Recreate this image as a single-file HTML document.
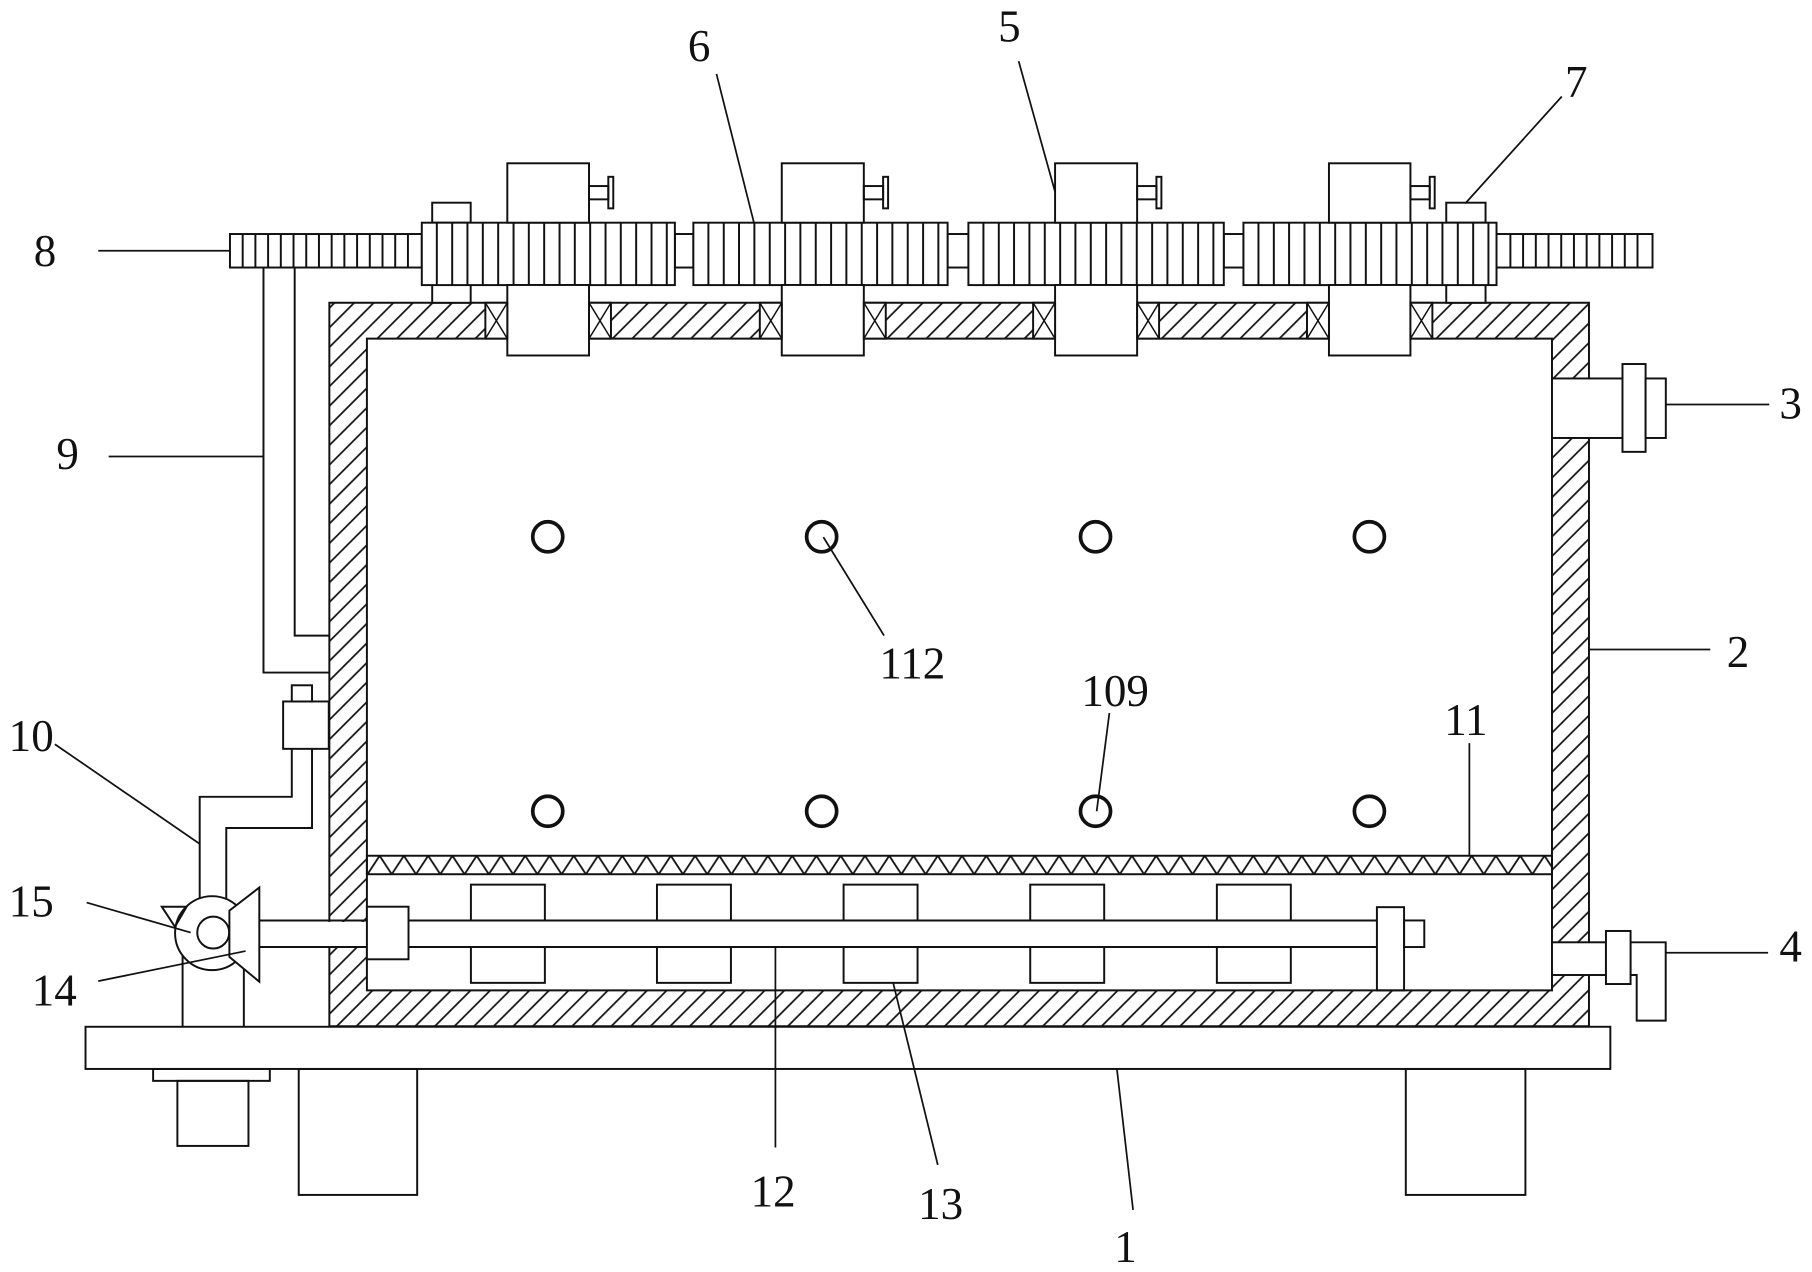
<!DOCTYPE html>
<html><head><meta charset="utf-8"><style>html,body{margin:0;padding:0;background:#fff;}svg{display:block}</style></head>
<body>
<svg xmlns="http://www.w3.org/2000/svg" width="1812" height="1272" viewBox="0 0 1568 1100.7" preserveAspectRatio="none">
<defs>
<pattern id="h" patternUnits="userSpaceOnUse" width="12" height="12" patternTransform="rotate(45)">
<line x1="6" y1="-1" x2="6" y2="13" stroke="#111" stroke-width="1.5"/>
</pattern>
<pattern id="z" patternUnits="userSpaceOnUse" x="318" y="740.5" width="21" height="16">
<polyline points="0,16 10.5,0 21,16" fill="none" stroke="#111" stroke-width="1.6"/>
</pattern>
</defs>
<rect width="1568" height="1101" fill="#fff"/>
<g fill="none" stroke="#111" stroke-width="1.7">
<!-- walls -->
<path d="M285,262H1375V888H285Z M317.5,293V857H1343V293Z" fill="url(#h)" fill-rule="evenodd"/>
<!-- left wall shaft opening -->
<rect x="283.5" y="797.8" width="35" height="21.4" fill="#fff" stroke="none"/>
<!-- fitting 3 -->
<rect x="1343" y="327.5" width="61" height="51.5" fill="#fff"/>
<rect x="1404" y="315" width="20" height="76" fill="#fff"/>
<rect x="1424" y="327.5" width="17.5" height="51.5" fill="#fff"/>
<!-- fitting 4 -->
<rect x="1343" y="815.4" width="46.7" height="28.3" fill="#fff"/>
<polygon points="1411,815.4 1441.4,815.4 1441.4,883.2 1416.3,883.2 1416.3,843.7 1411,843.7" fill="#fff"/>
<rect x="1389.7" y="805.6" width="21.3" height="45.9" fill="#fff"/>

<!-- top rods -->
<rect x="199" y="202.5" width="166" height="29" fill="#fff"/>
<path d="M210,202.5V231.5M221,202.5V231.5M232,202.5V231.5M243,202.5V231.5M254,202.5V231.5M265,202.5V231.5M276,202.5V231.5M287,202.5V231.5M298,202.5V231.5M309,202.5V231.5M320,202.5V231.5M331,202.5V231.5M342,202.5V231.5M353,202.5V231.5"/>
<rect x="1295" y="202.5" width="135" height="29" fill="#fff"/>
<path d="M1307,202.5V231.5M1318,202.5V231.5M1329,202.5V231.5M1340,202.5V231.5M1351,202.5V231.5M1362,202.5V231.5M1373,202.5V231.5M1384,202.5V231.5M1395,202.5V231.5M1406,202.5V231.5M1417,202.5V231.5"/>
<rect x="584" y="202.5" width="16" height="29" fill="#fff"/>
<rect x="820" y="202.5" width="18" height="29" fill="#fff"/>
<rect x="1059" y="202.5" width="17" height="29" fill="#fff"/>

<!-- small blocks 7 -->
<rect x="374" y="175.4" width="33.3" height="17.3" fill="#fff"/>
<rect x="374" y="246.6" width="33.3" height="15.4" fill="#fff"/>
<rect x="1251.5" y="175.4" width="34" height="17.3" fill="#fff"/>
<rect x="1251.5" y="246.6" width="34" height="15.4" fill="#fff"/>

<!-- sleeves -->
<rect x="365" y="192.7" width="219" height="54" fill="#fff"/>
<rect x="600" y="192.7" width="220" height="54" fill="#fff"/>
<rect x="838" y="192.7" width="221" height="54" fill="#fff"/>
<rect x="1076" y="192.7" width="219" height="54" fill="#fff"/>
<path d="M378,192.7V246.7M391.3,192.7V246.7M404.5,192.7V246.7M417.8,192.7V246.7M431.1,192.7V246.7M444.4,192.7V246.7M457.6,192.7V246.7M470.9,192.7V246.7M484.2,192.7V246.7M497.4,192.7V246.7M510.7,192.7V246.7M524,192.7V246.7M537.2,192.7V246.7M550.5,192.7V246.7M563.8,192.7V246.7M577,192.7V246.7"/>
<path d="M613,192.7V246.7M626.3,192.7V246.7M639.5,192.7V246.7M652.8,192.7V246.7M666.1,192.7V246.7M679.4,192.7V246.7M692.6,192.7V246.7M705.9,192.7V246.7M719.2,192.7V246.7M732.4,192.7V246.7M745.7,192.7V246.7M759,192.7V246.7M772.2,192.7V246.7M785.5,192.7V246.7M798.8,192.7V246.7M812,192.7V246.7"/>
<path d="M851,192.7V246.7M864.3,192.7V246.7M877.5,192.7V246.7M890.8,192.7V246.7M904.1,192.7V246.7M917.4,192.7V246.7M930.6,192.7V246.7M943.9,192.7V246.7M957.2,192.7V246.7M970.4,192.7V246.7M983.7,192.7V246.7M997,192.7V246.7M1010.2,192.7V246.7M1023.5,192.7V246.7M1036.8,192.7V246.7M1050,192.7V246.7"/>
<path d="M1089,192.7V246.7M1102.3,192.7V246.7M1115.5,192.7V246.7M1128.8,192.7V246.7M1142.1,192.7V246.7M1155.4,192.7V246.7M1168.6,192.7V246.7M1181.9,192.7V246.7M1195.2,192.7V246.7M1208.4,192.7V246.7M1221.7,192.7V246.7M1235,192.7V246.7M1248.2,192.7V246.7M1261.5,192.7V246.7M1274.8,192.7V246.7M1288,192.7V246.7"/>

<!-- motor blocks above -->
<rect x="439" y="141.3" width="70.7" height="51.4" fill="#fff"/>
<rect x="676.5" y="141.3" width="71" height="51.4" fill="#fff"/>
<rect x="913" y="141.3" width="71" height="51.4" fill="#fff"/>
<rect x="1150" y="141.3" width="70.5" height="51.4" fill="#fff"/>
<!-- knobs -->
<rect x="509.7" y="161" width="16.7" height="11.5"/><rect x="526.4" y="153" width="4.3" height="27.3"/>
<rect x="747.5" y="161" width="16.7" height="11.5"/><rect x="764.2" y="153" width="4.3" height="27.3"/>
<rect x="984" y="161" width="16.7" height="11.5"/><rect x="1000.7" y="153" width="4.3" height="27.3"/>
<rect x="1220.5" y="161" width="16.7" height="11.5"/><rect x="1237.2" y="153" width="4.3" height="27.3"/>

<!-- blocks below through top wall -->
<rect x="439" y="246.6" width="70.7" height="61" fill="#fff"/>
<rect x="676.5" y="246.6" width="71" height="61" fill="#fff"/>
<rect x="913" y="246.6" width="71" height="61" fill="#fff"/>
<rect x="1150" y="246.6" width="70.5" height="61" fill="#fff"/>
<!-- bearings -->
<g fill="#fff">
<rect x="420" y="262" width="19" height="31"/><rect x="509.7" y="262" width="19" height="31"/>
<rect x="657.5" y="262" width="19" height="31"/><rect x="747.5" y="262" width="19" height="31"/>
<rect x="894" y="262" width="19" height="31"/><rect x="984" y="262" width="19" height="31"/>
<rect x="1131" y="262" width="19" height="31"/><rect x="1220.5" y="262" width="19" height="31"/>
</g>
<path d="M420,262L439,293M439,262L420,293 M509.7,262L528.7,293M528.7,262L509.7,293 M657.5,262L676.5,293M676.5,262L657.5,293 M747.5,262L766.5,293M766.5,262L747.5,293 M894,262L913,293M913,262L894,293 M984,262L1003,293M1003,262L984,293 M1131,262L1150,293M1150,262L1131,293 M1220.5,262L1239.5,293M1239.5,262L1220.5,293" stroke-width="1.3"/>

<!-- pipe 9 -->
<path d="M228,231.5V582H285 M255,231.5V550H285"/>

<!-- circles -->
<g stroke-width="3.2">
<circle cx="474" cy="464.5" r="13"/><circle cx="711" cy="464.5" r="13"/><circle cx="948" cy="464.5" r="13"/><circle cx="1185" cy="464.5" r="13"/>
<circle cx="474" cy="702" r="13"/><circle cx="711" cy="702" r="13"/><circle cx="948" cy="702" r="13"/><circle cx="1185" cy="702" r="13"/>
</g>

<!-- filter 11 -->
<rect x="317.5" y="740.5" width="1025.5" height="16" fill="url(#z)"/>

<!-- paddles 13 -->
<rect x="407.5" y="765.5" width="64" height="31"/><rect x="407.5" y="819.5" width="64" height="31"/>
<rect x="568.5" y="765.5" width="64" height="31"/><rect x="568.5" y="819.5" width="64" height="31"/>
<rect x="730" y="765.5" width="64" height="31"/><rect x="730" y="819.5" width="64" height="31"/>
<rect x="891.5" y="765.5" width="64" height="31"/><rect x="891.5" y="819.5" width="64" height="31"/>
<rect x="1053" y="765.5" width="64" height="31"/><rect x="1053" y="819.5" width="64" height="31"/>

<!-- shaft 12 -->
<path d="M224.4,796.5H317.5 M224.4,819.5H317.5 M353.5,796.5H1191.5 M353.5,819.5H1191.5"/>
<rect x="317.5" y="784.6" width="36" height="45.5" fill="#fff"/>
<rect x="1191.5" y="785" width="23.5" height="72"/>
<rect x="1215" y="796.5" width="17.5" height="23"/>

<!-- valve 10 -->
<rect x="245" y="607" width="39.5" height="41" fill="#fff"/>
<rect x="252.5" y="593" width="17.5" height="14" fill="#fff"/>
<path d="M252.5,648V689.5H172.8V777.5 M270,648V716.5H195.8V778.5"/>

<!-- pump 14/15 -->
<path d="M158,827V888 M211,836V888"/>
<polygon points="140,784.6 161.5,784.6 151.4,802"/>
<circle cx="183.5" cy="807.5" r="32"/>
<circle cx="184.5" cy="807" r="13.8"/>
<polygon points="198.5,788 224.4,768 224.4,849.5 198.5,828" fill="#fff"/>

<!-- base -->
<rect x="74" y="888.5" width="1319.5" height="36.5" fill="#fff"/>
<rect x="258.5" y="925" width="102.5" height="109"/>
<rect x="1216.5" y="925" width="103.5" height="109"/>
<rect x="132.5" y="925" width="101" height="10.3"/>
<rect x="153.5" y="935.3" width="61.5" height="56.3"/>

<!-- leaders -->
<g stroke-width="1.5">
<path d="M85,217H199"/>
<path d="M94,395H228"/>
<path d="M620,64L652.5,193"/>
<path d="M881.5,53L913,166"/>
<path d="M1351.5,83.5L1268,176"/>
<path d="M1441.5,350H1531"/>
<path d="M1375,562H1480"/>
<path d="M1441.4,824.4H1530"/>
<path d="M712.5,464.8L765,550"/>
<path d="M960,617L949,702"/>
<path d="M1271.5,643V741"/>
<path d="M47.5,644L172.5,730"/>
<path d="M75,781L165,807"/>
<path d="M85,849L212.5,823"/>
<path d="M671,820V993"/>
<path d="M773,851L811.5,1008"/>
<path d="M966.5,925L980.5,1047"/>
</g>
</g>

<g font-family="'Liberation Serif', serif" font-size="39" fill="#111" text-anchor="middle">
<text x="39" y="230">8</text>
<text x="58.5" y="406">9</text>
<text x="605" y="53">6</text>
<text x="873.5" y="36">5</text>
<text x="1364" y="84">7</text>
<text x="1549.5" y="362">3</text>
<text x="1504" y="577">2</text>
<text x="1549.5" y="832">4</text>
<text x="789.5" y="587">112</text>
<text x="965" y="611">109</text>
<text x="1268.5" y="636">11</text>
<text x="27" y="650">10</text>
<text x="27" y="793">15</text>
<text x="47" y="870">14</text>
<text x="669" y="1044">12</text>
<text x="814" y="1055">13</text>
<text x="974" y="1092">1</text>
</g>
</svg>
</body></html>
